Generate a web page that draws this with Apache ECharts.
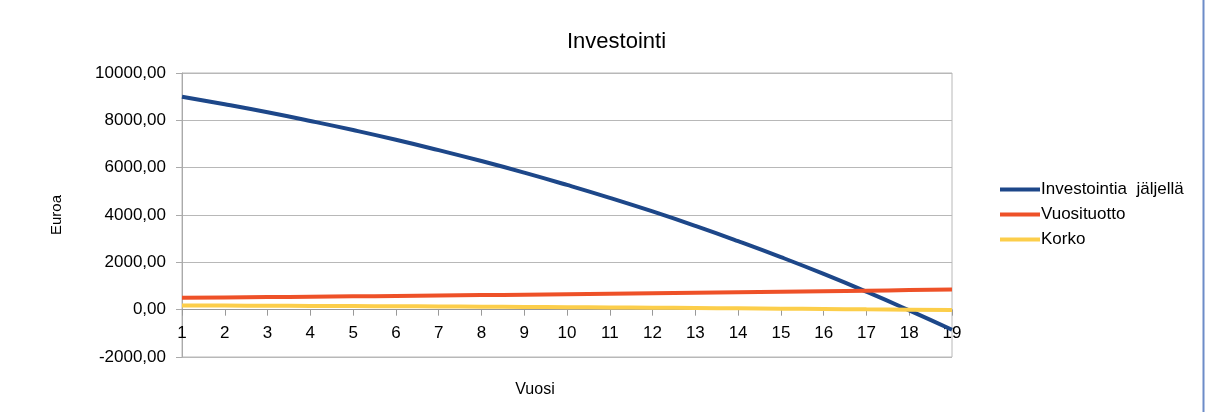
<!DOCTYPE html>
<html lang="fi">
<head>
    <meta charset="UTF-8">
    <title>Investointi</title>
    <style type="text/css">
        html, body { margin: 0; padding: 0; background: #fff; }
        #chart { width: 1209px; height: 412px; }
    </style>
</head>
<body>
<div id="chart"></div>
<script src="https://cdn.jsdelivr.net/npm/echarts@6/dist/echarts.min.js"></script>
<script>
    // vuodet 1..19
    var vuodet = ['1', '2', '3', '4', '5', '6', '7', '8', '9', '10',
        '11', '12', '13', '14', '15', '16', '17', '18', '19'];
    // luettu kuvasta
    var jaljella = [9000, 8680, 8340, 7975, 7590, 7180, 6740, 6280, 5790, 5270,
        4725, 4150, 3540, 2895, 2220, 1510, 760, -30, -850];
    var vuosituotto = [500, 515, 530, 546, 563, 580, 597, 615, 633, 652,
        672, 692, 713, 734, 756, 779, 802, 826, 851];
    var korko = [180, 174, 167, 160, 152, 144, 135, 126, 116, 105,
        95, 83, 71, 58, 44, 30, 15, 0, -17];

    var fontti = '"Liberation Sans", Arial, sans-serif';
    var myChart = echarts.init(document.getElementById('chart'));

    function viiva(nimi, data, vari) {
        return {
            name: nimi,
            type: 'line',
            data: data,
            smooth: true,
            showSymbol: false,
            lineStyle: {width: 4, color: vari},
            itemStyle: {color: vari}
        };
    }

    // x-akseli nollan kohdalle: nolla on 1/6 korkeudesta alhaalta
    var gridTop = 73, gridBottom = 55, korkeus = 412 - gridTop - gridBottom;

    var option = {
        animation: false,
        title: {
            text: 'Investointi',
            left: 562,
            top: 26,
            textStyle: {fontFamily: fontti, fontSize: 22, fontWeight: 'normal', color: '#000'}
        },
        legend: {
            orient: 'vertical',
            left: 995,
            top: 176,
            itemWidth: 40,
            itemHeight: 4,
            itemGap: 8,
            icon: 'rect',
            textStyle: {fontFamily: fontti, fontSize: 17, color: '#000', padding: [0, 0, 0, -4]},
            data: ['Investointia  jäljellä', 'Vuosituotto', 'Korko']
        },
        grid: {
            left: 182, right: 257, top: gridTop, bottom: gridBottom,
            containLabel: false,
            outerBoundsMode: 'none',
            show: true, borderColor: '#b8b8b8', borderWidth: 1
        },
        graphic: [{
            type: 'line',
            shape: {x1: 1203.5, y1: 0, x2: 1203.5, y2: 412},
            style: {stroke: '#6d8cc8', lineWidth: 2}
        }],
        xAxis: {
            type: 'category',
            data: vuodet,
            boundaryGap: false,
            offset: -korkeus / 6,
            name: 'Vuosi',
            nameLocation: 'middle',
            nameGap: 72,
            nameTextStyle: {fontFamily: fontti, fontSize: 16, color: '#000', padding: [0, 64, 0, 0]},
            axisLine: {onZero: false, lineStyle: {color: '#999999'}},
            axisTick: {show: true, length: 6, interval: 0, lineStyle: {color: '#999999'}},
            axisLabel: {interval: 0, margin: 15, fontFamily: fontti, fontSize: 17, color: '#000'},
            splitLine: {show: false}
        },
        yAxis: {
            type: 'value',
            min: -2000,
            max: 10000,
            interval: 2000,
            name: 'Euroa',
            nameLocation: 'middle',
            nameGap: 118,
            nameTextStyle: {fontFamily: fontti, fontSize: 15, color: '#000'},
            axisLine: {show: true, lineStyle: {color: '#aaaaaa'}},
            axisTick: {show: true, length: 6, lineStyle: {color: '#aaaaaa'}},
            axisLabel: {
                margin: 16,
                fontFamily: fontti,
                fontSize: 17,
                color: '#000',
                formatter: function (v) { return v.toFixed(2).replace('.', ','); }
            },
            splitLine: {lineStyle: {color: '#b8b8b8'}}
        },
        series: [
            viiva('Investointia  jäljellä', jaljella, '#1d4789'),
            viiva('Vuosituotto', vuosituotto, '#ee5128'),
            viiva('Korko', korko, '#fcce4a')
        ]
    };
    myChart.setOption(option);
</script>
</body>
</html>
